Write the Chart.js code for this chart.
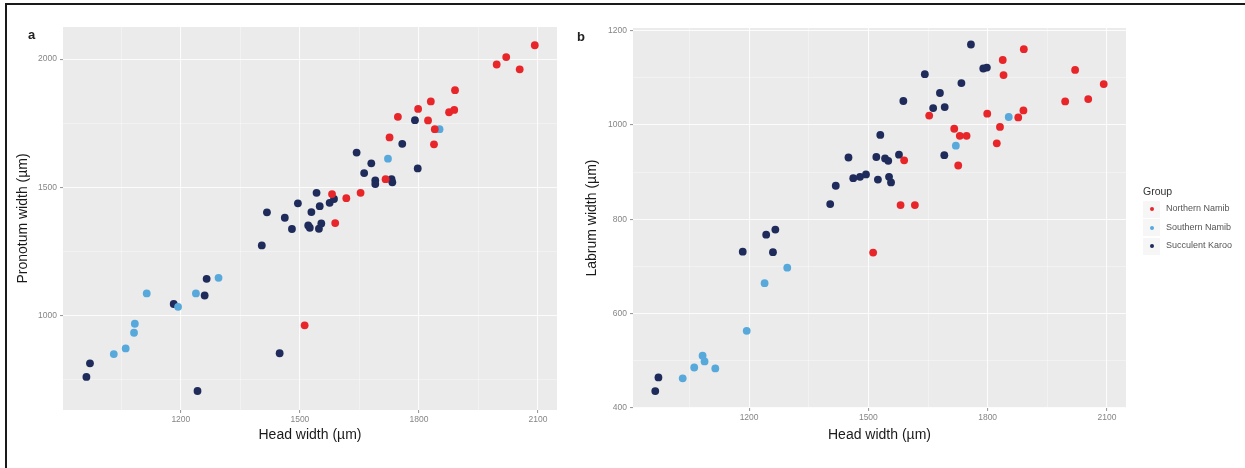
<!DOCTYPE html>
<html>
<head>
<meta charset="utf-8">
<script src="https://cdn.jsdelivr.net/npm/chart.js@4.4.1/dist/chart.umd.min.js"></script>
<style>
  html, body { margin: 0; padding: 0; background: #ffffff; }
  body { width: 1245px; height: 468px; position: relative; overflow: hidden; font-family: Arial, "Liberation Sans", sans-serif; }
  #frame { position: absolute; left: 5px; top: 3px; right: -10px; bottom: -10px; border-left: 2px solid #1a1a1a; border-top: 2px solid #1a1a1a; }
  canvas { position: absolute; top: 0; }
  #cA { left: 0; }
  #cB { left: 575px; }
  .letter { position: absolute; font-weight: bold; font-size: 13px; color: #222; line-height: 14px; }
  .leg { position: absolute; color: #555; font-size: 9px; white-space: nowrap; }
  .legTitle { position: absolute; color: #333; font-size: 10.5px; }
  .key { position: absolute; width: 17px; height: 17px; background: #F6F6F6; }
  .dot { position: absolute; width: 4px; height: 4px; border-radius: 50%; }
</style>
</head>
<body>
<div id="frame"></div>
<canvas id="cA" width="575" height="468"></canvas>
<canvas id="cB" width="670" height="468"></canvas>
<div class="letter" style="left:28px; top:28px;">a</div>
<div class="letter" style="left:577px; top:30px;">b</div>
<div id="legend"></div>
<script>
// ---------- data ----------
const groups = ["Northern Namib", "Southern Namib", "Succulent Karoo"];
const groupColors = ["#E8262A", "#58A9DB", "#1E2B5B"];

// Panel a: head width vs pronotum width
const headNorthA = [1512,1581,1589,1617,1653,1716,1726,1747,1798,1823,1830,1840,1838,1876,1889,1891,1996,2020,2054,2092];
const pronotumNorth = [963,1474,1361,1458,1479,1532,1695,1775,1806,1761,1835,1727,1668,1793,1802,1879,1979,2008,1960,2054];
const headSouthA = [1031,1061,1082,1084,1114,1193,1238,1295,1722,1852];
const pronotumSouth = [851,873,934,969,1087,1035,1087,1148,1612,1727];
const headKarooA = [962,971,1182,1242,1260,1265,1404,1417,1449,1462,1480,1495,1521,1525,1529,1542,1548,1550,1554,1575,1586,1643,1662,1680,1690,1690,1731,1733,1758,1790,1797];
const pronotumKaroo = [762,815,1046,707,1079,1144,1274,1403,854,1382,1338,1438,1352,1343,1404,1479,1339,1427,1360,1440,1455,1636,1556,1594,1527,1513,1532,1520,1670,1762,1574];

// Panel b: head width vs labrum width
const headNorthB = [1512,1581,1617,1590,1653,1716,1730,1747,1726,1799,1831,1823,1838,1840,1877,1890,1891,1995,2020,2053,2092];
const labrumNorth = [729,830,830,925,1020,992,977,977,914,1024,996,961,1138,1106,1016,1031,1161,1050,1117,1055,1087];
const headSouthB = [1033,1062,1083,1088,1115,1194,1239,1296,1720,1853];
const labrumSouth = [462,485,510,498,483,563,664,697,956,1017];
const headKarooB = [964,972,1184,1243,1266,1260,1404,1418,1450,1462,1479,1494,1524,1520,1542,1550,1552,1557,1530,1577,1588,1642,1663,1680,1692,1691,1734,1758,1789,1798];
const labrumKaroo = [435,464,731,767,778,730,832,871,931,887,890,895,884,932,929,924,890,878,979,937,1051,1108,1036,1068,1038,936,1089,1171,1120,1122];

// tick values
const headMajor = [1200,1500,1800,2100];
const headMinor = [1050,1350,1650,1950];
const pronotumMajor = [1000,1500,2000];
const pronotumMinor = [750,1250,1750];
const labrumMajor = [400,600,800,1000,1200];
const labrumMinor = [500,700,900,1100];

// ---------- helpers ----------
const panelBg = {
  id: 'panelBg',
  beforeDraw(chart) {
    const {ctx, chartArea: a} = chart;
    ctx.save();
    ctx.fillStyle = '#EBEBEB';
    ctx.fillRect(a.left, a.top, a.right - a.left, a.bottom - a.top);
    ctx.restore();
  }
};

function axisOpts(o) {
  const all = o.major.concat(o.minor).sort((a, b) => a - b);
  return {
    type: 'linear',
    min: o.min, max: o.max,
    afterBuildTicks: s => { s.ticks = all.map(v => ({value: v})); },
    afterFit: s => { if (o.horizontal) s.height = o.size; else s.width = o.size; },
    ticks: {
      autoSkip: false, maxRotation: 0, minRotation: 0,
      padding: o.horizontal ? 2 : 3,
      color: '#858585',
      font: {family: 'Arial', size: 8.5},
      callback: v => o.major.includes(v) ? String(v) : ''
    },
    grid: {
      color: c => (c.tick && o.major.includes(c.tick.value)) ? 'rgba(255,255,255,0.85)' : 'rgba(255,255,255,0.7)',
      lineWidth: c => (c.tick && o.major.includes(c.tick.value)) ? 1.1 : 0.55,
      tickLength: 3,
      tickColor: c => (c.tick && o.major.includes(c.tick.value)) ? '#9a9a9a' : 'rgba(0,0,0,0)'
    },
    border: {display: false},
    title: {
      display: true, text: o.title, color: '#1a1a1a',
      font: {family: 'Arial', size: 14},
      padding: o.titlePad
    }
  };
}

function makeDatasets(xs, ys) {
  return groups.map((g, i) => ({
    label: g,
    data: xs[i].map((x, j) => ({x: x, y: ys[i][j]})),
    backgroundColor: groupColors[i],
    borderWidth: 0,
    pointRadius: 3.9,
    pointHoverRadius: 3.9
  }));
}

function makeChart(id, xs, ys, xAxis, yAxis, padding) {
  return new Chart(document.getElementById(id), {
    type: 'scatter',
    data: {datasets: makeDatasets(xs, ys)},
    options: {
      responsive: false, animation: false, devicePixelRatio: 1,
      layout: {padding: padding},
      plugins: {legend: {display: false}, tooltip: {enabled: false}},
      scales: {x: axisOpts(xAxis), y: axisOpts(yAxis)}
    },
    plugins: [panelBg]
  });
}

// ---------- panel a ----------
makeChart('cA',
  [headNorthA, headSouthA, headKarooA],
  [pronotumNorth, pronotumSouth, pronotumKaroo],
  {min: 903, max: 2148, major: headMajor, minor: headMinor, horizontal: true, size: 58,
   title: 'Head width (µm)', titlePad: {top: 4, bottom: 24}},
  {min: 633, max: 2125, major: pronotumMajor, minor: pronotumMinor, horizontal: false, size: 63,
   title: 'Pronotum width (µm)', titlePad: {top: 14.5, bottom: 4}},
  {top: 27, right: 18, bottom: 0, left: 0}
);

// ---------- panel b ----------
makeChart('cB',
  [headNorthB, headSouthB, headKarooB],
  [labrumNorth, labrumSouth, labrumKaroo],
  {min: 908, max: 2148, major: headMajor, minor: headMinor, horizontal: true, size: 60,
   title: 'Head width (µm)', titlePad: {top: 4, bottom: 24}},
  {min: 399, max: 1206, major: labrumMajor, minor: labrumMinor, horizontal: false, size: 58,
   title: 'Labrum width (µm)', titlePad: {top: 8.3, bottom: 4}},
  {top: 28, right: 119, bottom: 0, left: 0}
);

// ---------- legend ----------
(function buildLegend() {
  const leg = document.getElementById('legend');
  const t = document.createElement('div');
  t.className = 'legTitle';
  t.style.left = '1143px'; t.style.top = '185px';
  t.textContent = 'Group';
  leg.appendChild(t);
  const rowY = [209, 227.7, 246.4];
  groups.forEach((g, i) => {
    const k = document.createElement('div');
    k.className = 'key';
    k.style.left = '1143px'; k.style.top = (rowY[i] - 8.5) + 'px';
    leg.appendChild(k);
    const d = document.createElement('div');
    d.className = 'dot';
    d.style.left = '1149.7px'; d.style.top = (rowY[i] - 2) + 'px';
    d.style.background = groupColors[i];
    leg.appendChild(d);
    const s = document.createElement('div');
    s.className = 'leg';
    s.style.left = '1166px'; s.style.top = (rowY[i] - 6) + 'px';
    s.textContent = g;
    leg.appendChild(s);
  });
})();
</script>
</body>
</html>
